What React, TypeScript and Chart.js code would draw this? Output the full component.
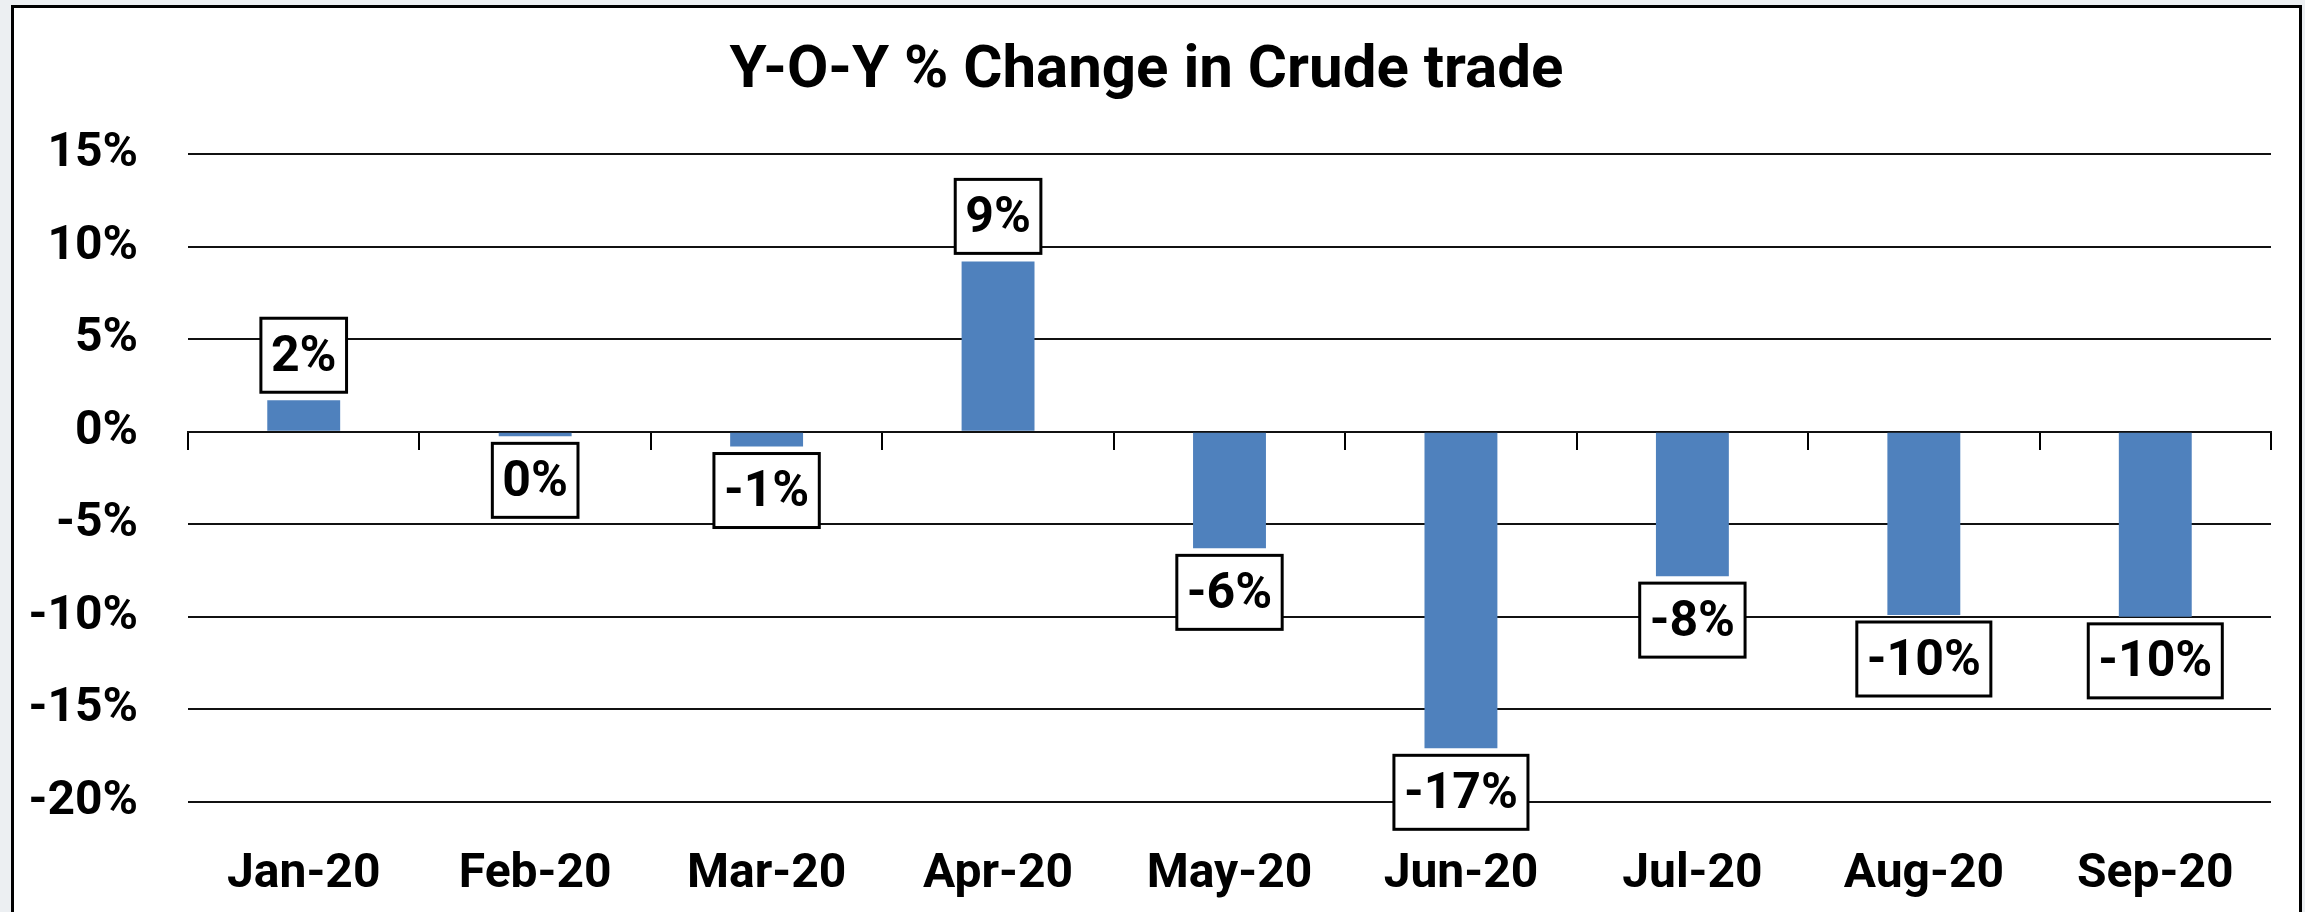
import React, { useEffect, useRef } from "react";
import { Chart, registerables } from "chart.js";

Chart.register(...registerables);

const categories = ["Jan-20", "Feb-20", "Mar-20", "Apr-20", "May-20", "Jun-20", "Jul-20", "Aug-20", "Sep-20"];
const yoyChange = [1.7, -0.25, -0.8, 9.2, -6.3, -17.1, -7.8, -9.9, -10.0];
const yMin = -20;
const yMax = 15;
const yStep = 5;
const chartTitle = "Y-O-Y % Change in Crude trade";

const FONT = 'Roboto, "Liberation Sans", sans-serif';

const fmtPct = (v: number) => {
  const r = Math.round(v);
  return `${r === 0 ? 0 : r}%`;
};

const labelBoxes = {
  id: "labelBoxes",
  afterDatasetsDraw(chart: any) {
    const ctx = chart.ctx;
    const meta = chart.getDatasetMeta(0);
    ctx.save();
    ctx.font = `bold 50px ${FONT}`;
    ctx.textAlign = "center";
    ctx.textBaseline = "middle";
    meta.data.forEach((bar: any, i: number) => {
      const v = yoyChange[i];
      const text = fmtPct(v);
      const w = ctx.measureText(text).width + 20;
      const h = 74;
      const { x, y } = bar.getProps(["x", "y"], true);
      const top = v >= 0 ? y - 8 - h : y + 7;
      ctx.fillStyle = "#ffffff";
      ctx.fillRect(x - w / 2, top, w, h);
      ctx.lineWidth = 3;
      ctx.strokeStyle = "#000000";
      ctx.strokeRect(x - w / 2, top, w, h);
      ctx.fillStyle = "#000000";
      ctx.fillText(text, x, top + h / 2 + 3);
    });
    ctx.restore();
  },
};

export default function App() {
  const ref = useRef<HTMLCanvasElement | null>(null);

  useEffect(() => {
    if (!ref.current) return;
    const chart = new Chart(ref.current, {
      type: "bar",
      data: {
        labels: categories,
        datasets: [
          {
            data: yoyChange,
            backgroundColor: "#4f81bd",
            borderWidth: 0,
            xAxisID: "x",
            yAxisID: "y",
            categoryPercentage: 1,
            barPercentage: 0.315,
          },
        ],
      },
      options: {
        animation: false,
        responsive: false,
        devicePixelRatio: 1,
        layout: { padding: { left: 22, right: 34, top: 0, bottom: 0 }, autoPadding: false },
        plugins: {
          legend: { display: false },
          tooltip: { enabled: false },
          title: {
            display: true,
            text: chartTitle,
            color: "#000000",
            font: { family: FONT, size: 60, weight: "bold", lineHeight: 1.2 },
            padding: { top: 36, bottom: 46 },
          },
        },
        scales: {
          x: {
            type: "category",
            position: "bottom",
            offset: true,
            grid: { display: false },
            border: { display: false },
            ticks: {
              color: "#000000",
              font: { family: FONT, size: 48, weight: "bold" },
              padding: 36,
              maxRotation: 0,
              autoSkip: false,
            },
            afterFit: (scale: any) => {
              scale.height = 110;
            },
          },
          x2: {
            type: "category",
            axis: "x",
            position: { y: 0 },
            offset: true,
            grid: {
              display: true,
              offset: true,
              drawOnChartArea: false,
              drawTicks: true,
              tickLength: 17,
              color: "#000000",
              lineWidth: 2,
            },
            border: { display: true, color: "#111111", width: 2 },
            ticks: { display: false },
          },
          y: {
            type: "linear",
            min: yMin,
            max: yMax,
            ticks: {
              stepSize: yStep,
              color: "#000000",
              font: { family: FONT, size: 48, weight: "bold" },
              padding: 50,
              callback: (v: any) => `${v}%`,
            },
            grid: { color: "#111111", lineWidth: 2, drawTicks: false },
            border: { display: false },
            afterFit: (scale: any) => {
              scale.width = 166;
            },
          },
        },
      } as any,
      plugins: [labelBoxes],
    });
    return () => chart.destroy();
  }, []);

  return (
    <div style={{ position: "fixed", left: 0, top: 0, width: 2305, height: 912, background: "#eceff2", overflow: "hidden" }}>
      <div
        style={{
          position: "absolute",
          left: 11,
          top: 5,
          width: 2291,
          height: 960,
          border: "3px solid #000",
          background: "#ffffff",
          boxSizing: "border-box",
        }}
      />
      <canvas ref={ref} width={2305} height={912} style={{ position: "absolute", left: 0, top: 0, width: 2305, height: 912 }} />
    </div>
  );
}
